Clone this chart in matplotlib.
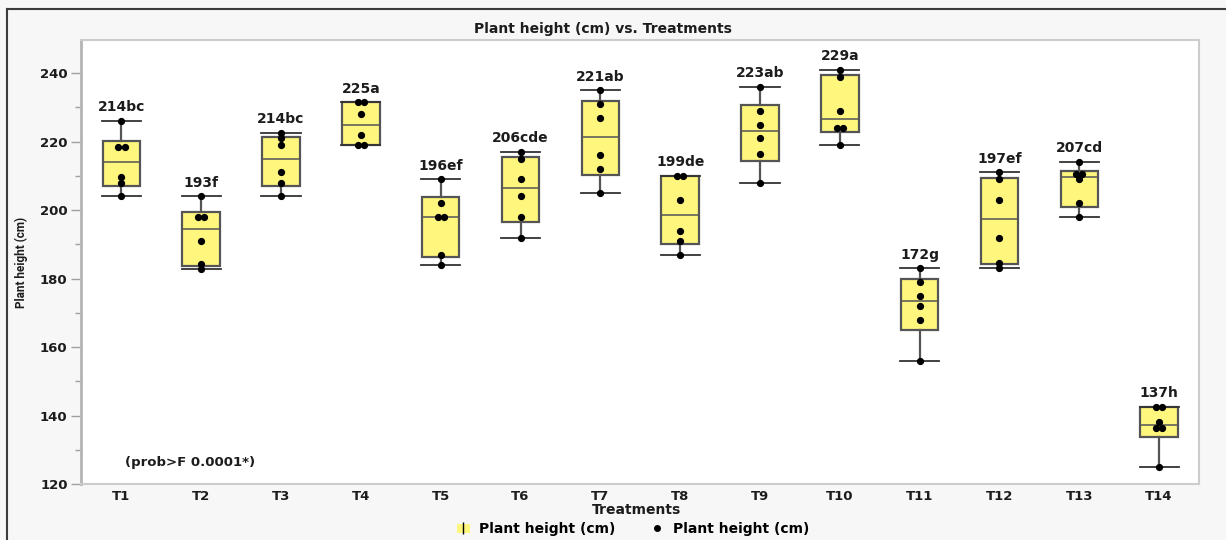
import numpy as np
import matplotlib.pyplot as plt
from matplotlib.lines import Line2D
from matplotlib.patches import Rectangle
from matplotlib.legend_handler import HandlerTuple

# plant height (cm) per replicate, by treatment
t1 = [226, 218.4, 218.4, 209.6, 208, 204]
t2 = [204, 198, 198, 191, 184.2, 182.7]
t3 = [222.5, 221, 219, 211, 208, 204]
t4 = [231.5, 231.5, 228, 222, 219, 219]
t5 = [209, 202, 198, 198, 187, 184]
t6 = [217, 215, 209, 204, 198, 192]
t7 = [235, 231, 227, 216, 212, 205]
t8 = [210, 210, 203, 194, 191, 187]
t9 = [236, 229, 225, 221, 216.5, 208]
t10 = [241, 239, 229, 224, 224, 219]
t11 = [183, 179, 175, 172, 168, 156]
t12 = [211, 209, 203, 192, 184.5, 183]
t13 = [214, 210.5, 210.5, 209, 202, 198]
t14 = [142.5, 142.5, 138, 136.5, 136.5, 125]

treatments = ["T1", "T2", "T3", "T4", "T5", "T6", "T7",
              "T8", "T9", "T10", "T11", "T12", "T13", "T14"]
letters = ["bc", "f", "bc", "a", "ef", "cde", "ab",
           "de", "ab", "a", "g", "ef", "cd", "h"]
groups = [t1, t2, t3, t4, t5, t6, t7, t8, t9, t10, t11, t12, t13, t14]

BOX_FILL = "#fff67e"
EDGE = "#555555"
TXT = "#1c1c1c"

plt.rcParams["font.family"] = ["DejaVu Sans"]
plt.rcParams["font.weight"] = "bold"

fig = plt.figure(figsize=(12.26, 5.4), dpi=100, facecolor="#f7f7f7")
ax = fig.add_axes([81.5 / 1226, 1 - 484 / 540, (1199 - 81.5) / 1226, (484 - 40) / 540])
ax.set_facecolor("white")

# box stats with JMP-style quartiles, whiskers to min/max
stats = []
for name, g in zip(treatments, groups):
    g = np.asarray(g, dtype=float)
    q1, med, q3 = np.percentile(g, [25, 50, 75], method="weibull")
    stats.append(dict(label=name, med=med, q1=q1, q3=q3,
                      whislo=g.min(), whishi=g.max(), fliers=[]))

pos = np.arange(1, len(groups) + 1)
ax.bxp(stats, positions=pos, widths=0.47, capwidths=0.49, patch_artist=True,
       showfliers=False,
       boxprops=dict(facecolor=BOX_FILL, edgecolor=EDGE, linewidth=1.6),
       medianprops=dict(color=EDGE, linewidth=1.1),
       whiskerprops=dict(color=EDGE, linewidth=1.6),
       capprops=dict(color="#333333", linewidth=1.3), zorder=2)

# raw points, tied values nudged side by side
for x, g in zip(pos, groups):
    vals = np.asarray(g, dtype=float)
    xs = np.full(len(vals), float(x))
    for v in np.unique(vals):
        idx = np.where(vals == v)[0]
        if len(idx) > 1:
            xs[idx] = x + np.linspace(-0.04, 0.04, len(idx))
    ax.plot(xs, vals, "o", color="black", ms=4.2, zorder=3)

    ax.annotate(f"{np.mean(vals):.0f}{letters[x - 1]}", xy=(x, vals.max()),
                xytext=(0, 7), textcoords="offset points", ha="center",
                va="baseline", fontsize=10, fontweight="bold", color=TXT)

ax.text(1.04, 126.4, "(prob>F 0.0001*)", fontsize=9.5, fontweight="bold",
        color=TXT, ha="left", va="center")

ax.set_xlim(0.5, 14.5)
ax.set_ylim(120, 249.7)
ax.set_xticks(pos)
ax.set_xticklabels(treatments)
ax.set_yticks(np.arange(120, 241, 20))
ax.set_yticks(np.arange(130, 241, 20), minor=True)
ax.tick_params(axis="x", length=0, pad=4, labelsize=9.5, labelcolor=TXT)
ax.tick_params(axis="y", which="major", length=7, width=1, color="#a0a0a0",
               pad=3, labelsize=9.5, labelcolor=TXT)
ax.tick_params(axis="y", which="minor", length=4, width=1, color="#a0a0a0")
for lab in ax.get_xticklabels() + ax.get_yticklabels():
    lab.set_fontweight("bold")

for side in ["top", "right", "bottom"]:
    ax.spines[side].set_color("#cccccc")
    ax.spines[side].set_linewidth(1.5)
ax.spines["left"].set_color("#b4b4b4")
ax.spines["left"].set_linewidth(2)

fig.text(603 / 1226, 1 - 29 / 540, "Plant height (cm) vs. Treatments",
         ha="center", va="center", fontsize=10, fontweight="bold", color=TXT)
fig.text(637 / 1226, 1 - 510 / 540, "Treatments", ha="center", va="center",
         fontsize=10, fontweight="bold", color=TXT)
fig.text(21 / 1226, 1 - 262 / 540, "Plant height (cm)", rotation=90,
         ha="center", va="center", fontsize=8.5, fontweight="bold",
         family=["Roboto", "DejaVu Sans"], color=TXT)

# legend: box symbol (yellow patch crossed by a whisker line) and a dot
box_handle = (Rectangle((0, 0), 1, 1, facecolor=BOX_FILL, edgecolor="none"),
              Line2D([], [], marker="|", color="black", ls="none", ms=9, mew=1))
dot_handle = Line2D([], [], marker="o", color="black", ls="none", ms=4)
fig.legend([box_handle, dot_handle], ["Plant height (cm)", "Plant height (cm)"],
           handler_map={tuple: HandlerTuple(ndivide=1, pad=0)},
           loc="center", bbox_to_anchor=(633 / 1226, 1 - 529 / 540), ncol=2,
           frameon=False, handlelength=0.9, handleheight=0.6,
           handletextpad=0.7, columnspacing=2.5, prop=dict(weight="bold", size=10))

# dark frame along top and left
fig.add_artist(Line2D([7 / 1226, 1], [1 - 9 / 540, 1 - 9 / 540],
                      transform=fig.transFigure, color="#3c3c3c", lw=1.5))
fig.add_artist(Line2D([7 / 1226, 7 / 1226], [0, 1 - 9 / 540],
                      transform=fig.transFigure, color="#3c3c3c", lw=1.5))

fig.savefig("out.png", dpi=100, facecolor=fig.get_facecolor())
